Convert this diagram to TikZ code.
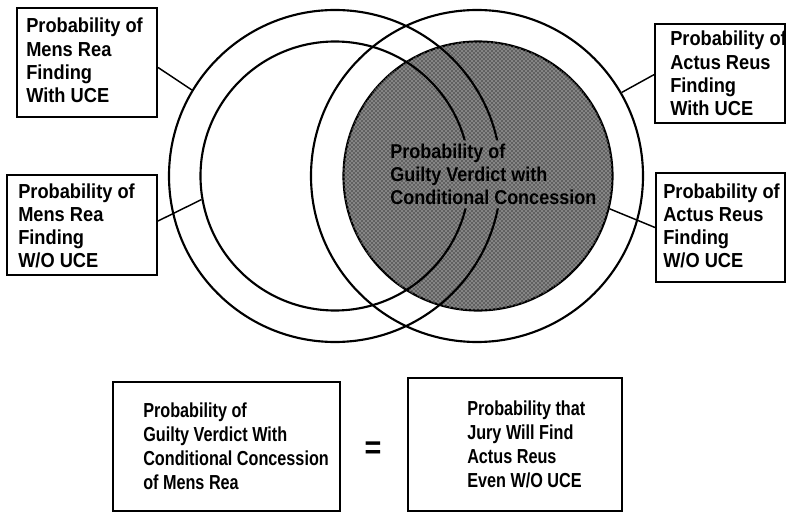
\documentclass[tikz,border=0pt]{standalone}
\usepackage{fontspec}
\setmainfont{Liberation Sans}[FakeStretch=0.9]
\newfontfamily\narrowfont{Liberation Sans}[FakeStretch=0.8]
\usetikzlibrary{patterns}
\begin{document}
\begin{tikzpicture}[x=0.75pt,y=-0.75pt,
  ring/.style={circle, draw, line width=1.6pt, inner sep=0pt},
  box/.style={rectangle, draw, line width=1.5pt, inner sep=0pt},
  lbl/.style={inner sep=0pt, align=left, anchor=base west,
    font=\fontsize{15.2}{17.4}\selectfont\bfseries},
  lowlbl/.style={inner sep=0pt, align=left, anchor=base west,
    font=\narrowfont\fontsize{15.2}{17.8}\selectfont\bfseries},
  link/.style={line width=1.1pt},
  screen/.style={fill=black!62, postaction={pattern=crosshatch dots, pattern color=white}}
]
\useasboundingbox (0,0) rectangle (786,513);

% shaded inner right circle and the caption that sits on it
\node[ring, screen, minimum size=201.75pt] (ri) at (478,176) {};
\node[lbl, inner xsep=2.25pt, inner ysep=2.25pt,
  font=\fontsize{15}{17.6}\selectfont\bfseries] (center) at (387,205)
  {Probability of\\Guilty Verdict with\\Conditional Concession};

% outlines of the remaining circles; the left pair stops short of the caption
% (outer frame and caption frame run in opposite directions, leaving a hole)
\begin{scope}[even odd rule]
  \clip (0,0) -- (786,0) -- (786,513) -- (0,513) -- cycle
        (center.north west) -- (center.south west) -- (center.south east) -- (center.north east) -- cycle;
  \node[ring, minimum size=249pt] (lo) at (335,176) {};
  \node[ring, minimum size=201.75pt] (li) at (335,176) {};
\end{scope}
\node[ring, minimum size=249pt] (ro) at (477,176) {};

% label boxes around the diagram
\node[box, minimum width=105pt, minimum height=81.75pt] (tl) at (87,62.5) {};
\node[box, minimum width=112.5pt, minimum height=75pt] (bl) at (82,225) {};
\node[box, minimum width=97.5pt, minimum height=74.25pt] (tr) at (720,73.5) {};
\node[box, minimum width=96.75pt, minimum height=81.75pt] (br) at (720.5,227.5) {};

\node[lbl] (tltext) at (26,102.5) {Probability of\\Mens Rea\\Finding\\With UCE};
\node[lbl] (bltext) at (18,268) {Probability of\\Mens Rea\\Finding\\W/O UCE};
\node[lbl] (trtext) at (670,115.5) {Probability of\\Actus Reus\\Finding\\With UCE};
\node[lbl] (brtext) at (663,268) {Probability of\\Actus Reus\\Finding\\W/O UCE};

% leader lines from the boxes to the circles
\draw[link] (tl.-4) -- (lo.149);
\draw[link] (bl.3) -- (li.190);
\draw[link] (tr.181) -- (ro.30);
\draw[link] (br.west) -- (ri.-14);

% the equation underneath
\node[box, minimum width=170.25pt, minimum height=96.75pt] (lhs) at (226.5,446.5) {};
\node[box, minimum width=160.5pt, minimum height=99.75pt] (rhs) at (515,444.5) {};
\node[lowlbl] (lhstext) at (143,489)
  {Probability of\\Guilty Verdict With\\Conditional Concession\\of Mens Rea};
\node[lowlbl] (rhstext) at (467,487)
  {Probability that\\Jury Will Find\\Actus Reus\\Even W/O UCE};
\node[inner sep=0pt, font=\fontsize{24}{24}\selectfont\bfseries] (eq) at (373,450) {=};
\end{tikzpicture}
\end{document}
